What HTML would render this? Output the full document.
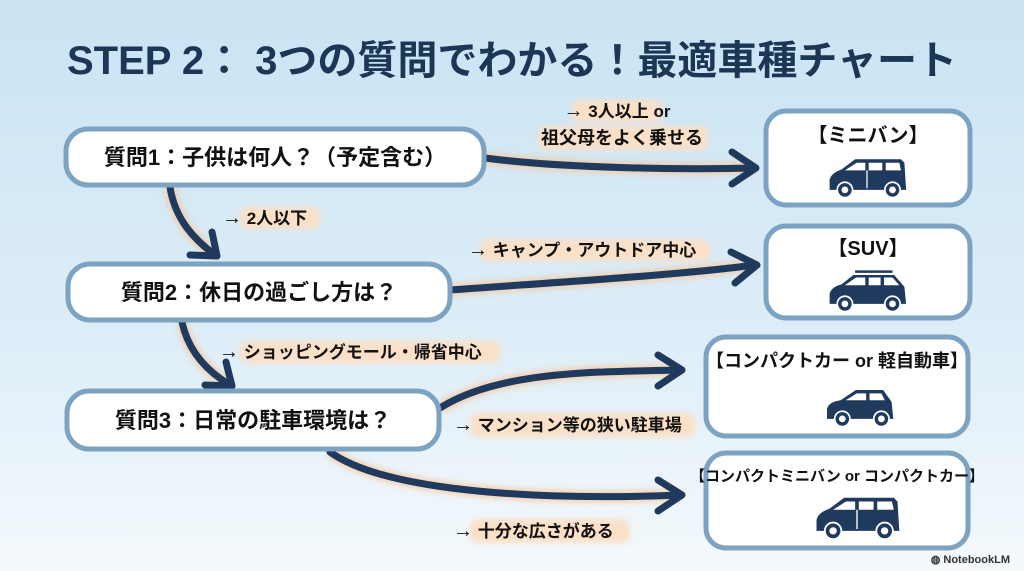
<!DOCTYPE html>
<html><head><meta charset="utf-8"><style>
html,body{margin:0;padding:0;width:1024px;height:571px;overflow:hidden}
svg{display:block}
text{font-family:"Liberation Sans","Noto Sans CJK JP",sans-serif;font-weight:700}
</style></head><body>
<svg width="1024" height="571" viewBox="0 0 1024 571" xmlns="http://www.w3.org/2000/svg">
<defs>
<linearGradient id="bg" x1="0" y1="0" x2="0" y2="1">
<stop offset="0" stop-color="#c9e3f3"/><stop offset="0.6" stop-color="#deeef8"/><stop offset="1" stop-color="#f4f9fc"/></linearGradient>
<filter id="glow" x="-20%" y="-50%" width="140%" height="200%"><feGaussianBlur stdDeviation="3"/></filter>
<g id="van"><path d="M-44,14 L-44,2 Q-42,-6 -30,-10 L-14,-22 L40,-22 L44,-18 L46,14 Z" fill="#1f3a5c"/>
<path d="M-26,-9 L-12,-18 L-2,-18 L-2,-9 Z M2,-18 L18,-18 L18,-9 L2,-9 Z M22,-18 L38,-18 L40,-9 L22,-9 Z" fill="#fff"/>
<line x1="0" y1="-9" x2="0" y2="12" stroke="#fff" stroke-width="1.5"/>
<circle cx="-26" cy="14" r="9" fill="#1f3a5c" stroke="#fff" stroke-width="2"/><circle cx="-26" cy="14" r="4" fill="#fff"/>
<circle cx="30" cy="14" r="9" fill="#1f3a5c" stroke="#fff" stroke-width="2"/><circle cx="30" cy="14" r="4" fill="#fff"/></g>
<g id="suv"><path d="M-44,14 L-44,2 Q-42,-6 -30,-9 L-16,-20 L32,-20 L44,-6 L46,14 Z" fill="#1f3a5c"/>
<path d="M-14,-24 L30,-24" stroke="#1f3a5c" stroke-width="3"/>
<path d="M-26,-8 L-13,-17 L-2,-17 L-2,-8 Z M2,-17 L16,-17 L16,-8 L2,-8 Z M20,-17 L30,-17 L38,-8 L20,-8 Z" fill="#fff"/>
<circle cx="-26" cy="14" r="9" fill="#1f3a5c" stroke="#fff" stroke-width="2"/><circle cx="-26" cy="14" r="4" fill="#fff"/>
<circle cx="30" cy="14" r="9" fill="#1f3a5c" stroke="#fff" stroke-width="2"/><circle cx="30" cy="14" r="4" fill="#fff"/></g>
<g id="car"><path d="M-40,14 L-40,2 Q-38,-6 -24,-8 L-6,-20 L26,-20 L36,-6 L38,14 Z" fill="#1f3a5c"/>
<path d="M-18,-8 L-5,-16 L6,-16 L6,-8 Z M10,-16 L24,-16 L28,-8 L10,-8 Z" fill="#fff"/>
<circle cx="-22" cy="14" r="9" fill="#1f3a5c" stroke="#fff" stroke-width="2"/><circle cx="-22" cy="14" r="4" fill="#fff"/>
<circle cx="24" cy="14" r="9" fill="#1f3a5c" stroke="#fff" stroke-width="2"/><circle cx="24" cy="14" r="4" fill="#fff"/></g>
</defs>
<rect width="1024" height="571" fill="url(#bg)"/>
<text x="512" y="74" text-anchor="middle" font-size="40" fill="#1c3656">STEP 2： 3つの質問でわかる！最適車種チャート</text>

<g fill="none" stroke="#f6c9a0" stroke-width="12" filter="url(#glow)" opacity="0.8">
<path d="M485,158 C560,168 680,170 755,168"/>
<path d="M170,187 C175,220 195,240 215,255"/>
<path d="M450,290 C560,282 680,275 755,265"/>
<path d="M182,322 C188,350 205,370 230,385"/>
<path d="M440,408 C500,370 600,372 680,370"/>
<path d="M330,452 C390,495 560,500 680,495"/>
</g>
<g fill="none" stroke="#1f3a5c" stroke-width="7" stroke-linecap="round" stroke-linejoin="round">
<path d="M485,158 C560,168 680,170 755,168"/><path d="M732,152 L756,168 L732,184"/>
<path d="M170,187 C175,220 195,240 215,255"/><path d="M190,255 L217,256 L212,232"/>
<path d="M450,290 C560,282 680,275 755,265"/><path d="M731,252 L757,265 L735,283"/>
<path d="M182,322 C188,350 205,370 230,385"/><path d="M205,385 L232,386 L226,362"/>
<path d="M440,408 C500,370 600,372 680,370"/><path d="M658,355 L682,370 L658,386"/>
<path d="M330,452 C390,495 560,500 680,495"/><path d="M658,480 L682,495 L658,511"/>
</g>

<g font-size="17" fill="#111">
<g fill="#fbe0c8" filter="url(#glow)">
<rect x="572" y="100" width="90" height="22" rx="8"/><rect x="538" y="126" width="170" height="24" rx="8"/>
<rect x="240" y="207" width="80" height="22" rx="8"/>
<rect x="480" y="239" width="230" height="22" rx="8"/>
<rect x="240" y="341" width="260" height="22" rx="8"/>
<rect x="470" y="413" width="225" height="24" rx="8"/>
<rect x="470" y="519" width="160" height="24" rx="8"/>
</g>
<text x="617" y="117" text-anchor="middle"><tspan font-size="20">→</tspan> 3人以上 or</text>
<text x="622" y="144" text-anchor="middle" font-size="18">祖父母をよく乗せる</text>
<text x="222" y="224"><tspan font-size="20">→</tspan> 2人以下</text>
<text x="468" y="256"><tspan font-size="20">→</tspan> キャンプ・アウトドア中心</text>
<text x="219" y="358"><tspan font-size="20">→</tspan> ショッピングモール・帰省中心</text>
<text x="453" y="431"><tspan font-size="20">→</tspan> マンション等の狭い駐車場</text>
<text x="453" y="537"><tspan font-size="20">→</tspan> 十分な広さがある</text>
</g>

<g fill="#fff" stroke="#7da3c2" stroke-width="5">
<rect x="66" y="129" width="418" height="56" rx="22"/>
<rect x="68" y="264" width="382" height="56" rx="22"/>
<rect x="67" y="391" width="372" height="58" rx="22"/>
<rect x="766" y="111" width="204" height="94" rx="20"/>
<rect x="766" y="226" width="204" height="92" rx="20"/>
<rect x="706" y="337" width="262" height="99" rx="20"/>
<rect x="706" y="453" width="262" height="95" rx="20"/>
</g>
<g font-size="22" fill="#111" text-anchor="middle">
<text x="275" y="165">質問1：子供は何人？（予定含む）</text>
<text x="259" y="300">質問2：休日の過ごし方は？</text>
<text x="253" y="428">質問3：日常の駐車環境は？</text>
<text x="868" y="142" font-size="20">【ミニバン】</text>
<text x="868" y="255" font-size="20">【SUV】</text>
<text x="837" y="367" font-size="18">【コンパクトカー or 軽自動車】</text>
<text x="837" y="481" font-size="15">【コンパクトミニバン or コンパクトカー】</text>
</g>
<use href="#van" transform="translate(867,178) scale(0.85)"/>
<use href="#suv" transform="translate(867,292) scale(0.85)"/>
<use href="#car" transform="translate(861,407) scale(0.85)"/>
<use href="#van" transform="translate(857,518) scale(0.92)"/>
<text x="1010" y="563" text-anchor="end" font-size="11" fill="#333" font-weight="400">◍ NotebookLM</text>
</svg>
</body></html>
